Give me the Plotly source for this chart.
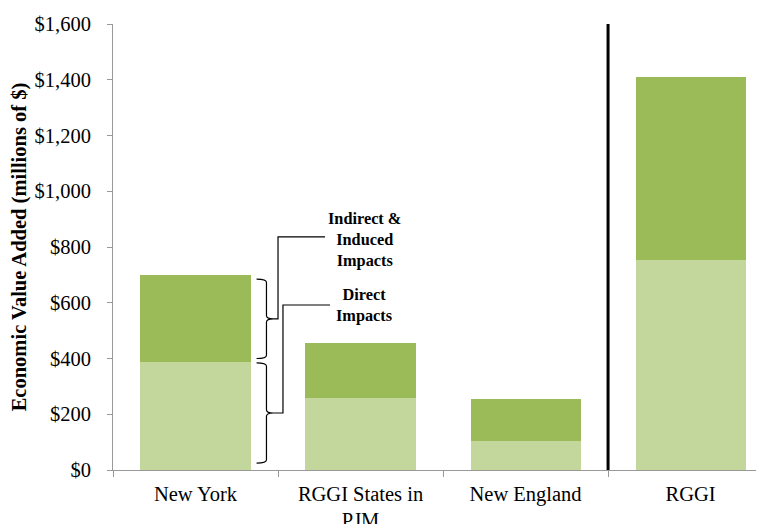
import plotly.graph_objects as go

categories = ["New York", "RGGI States in<br>PJM", "New England", "RGGI"]
direct = [388, 258, 104, 753]
indirect_induced = [312, 197, 151, 657]
y_ticks = [0, 200, 400, 600, 800, 1000, 1200, 1400, 1600]
y_tick_labels = ["$0", "$200", "$400", "$600", "$800", "$1,000", "$1,200", "$1,400", "$1,600"]

LIGHT = "#C3D69B"
DARK = "#9BBB59"
FONT = "Liberation Serif, Times New Roman, serif"

fig = go.Figure()
fig.add_trace(go.Bar(x=categories, y=direct, marker=dict(color=LIGHT, line=dict(width=0)),
                     name="Direct Impacts", width=0.667))
fig.add_trace(go.Bar(x=categories, y=indirect_induced, marker=dict(color=DARK, line=dict(width=0)),
                     name="Indirect & Induced Impacts", width=0.667))


def brace(x0, xm, xt, ytop, ybot):
    ymid = (ytop + ybot) / 2
    d = 12
    return (f"M {x0},{ytop} Q {xm},{ytop} {xm},{ytop - d} "
            f"L {xm},{ymid + d} Q {xm},{ymid} {xt},{ymid} "
            f"Q {xm},{ymid} {xm},{ymid - d} "
            f"L {xm},{ybot + d} Q {xm},{ybot} {x0},{ybot}")


line_style = dict(color="black", width=1.2)
# Braces beside the New York bar
fig.add_shape(type="path", xref="x", yref="y", path=brace(0.37, 0.43, 0.47, 685, 400), line=line_style)
fig.add_shape(type="path", xref="x", yref="y", path=brace(0.37, 0.43, 0.47, 384, 25), line=line_style)
# Connectors to labels
fig.add_shape(type="path", xref="x", yref="y",
              path=f"M 0.47,{(685+400)/2} L 0.5,{(685+400)/2} L 0.5,836 L 0.785,836", line=line_style)
fig.add_shape(type="path", xref="x", yref="y",
              path=f"M 0.47,{(384+25)/2} L 0.53,{(384+25)/2} L 0.53,592 L 0.815,592", line=line_style)
# Separator line before RGGI
fig.add_shape(type="line", xref="x", yref="y", x0=2.5, x1=2.5, y0=0, y1=1600,
              line=dict(color="black", width=3))

fig.add_annotation(x=1.025, y=828, xref="x", yref="y", text="<b>Indirect &amp;<br>Induced<br>Impacts</b>",
                   showarrow=False, font=dict(family=FONT, size=16.3, color="black"), align="center")
fig.add_annotation(x=1.02, y=592, xref="x", yref="y", text="<b>Direct<br>Impacts</b>",
                   showarrow=False, font=dict(family=FONT, size=16.3, color="black"), align="center")

fig.update_layout(
    width=756, height=516,
    barmode="stack",
    showlegend=False,
    plot_bgcolor="white", paper_bgcolor="white",
    margin=dict(l=105, r=0, t=16, b=54),
    font=dict(family=FONT, size=20.5, color="black"),
    xaxis=dict(type="category", range=[-0.5, 3.445], showline=True, linecolor="#999999", linewidth=1,
               ticks="outside", tickson="boundaries", ticklen=6, tickcolor="#999999",
               ticklabelstandoff=5, automargin=False,
               tickfont=dict(family=FONT, size=20.5, color="black"), showgrid=False),
    yaxis=dict(range=[0, 1600], tickvals=y_ticks, ticktext=y_tick_labels, showline=True,
               linecolor="#999999", linewidth=1, ticks="outside", ticklen=5, tickcolor="#999999",
               ticklabelstandoff=12, automargin=False,
               tickfont=dict(family=FONT, size=20.5, color="black"), showgrid=False, zeroline=False,
               title=dict(text="<b>Economic Value Added (millions of $)</b>",
                          font=dict(family=FONT, size=20.5, color="black"), standoff=4)),
)

fig.write_html("out.html")
